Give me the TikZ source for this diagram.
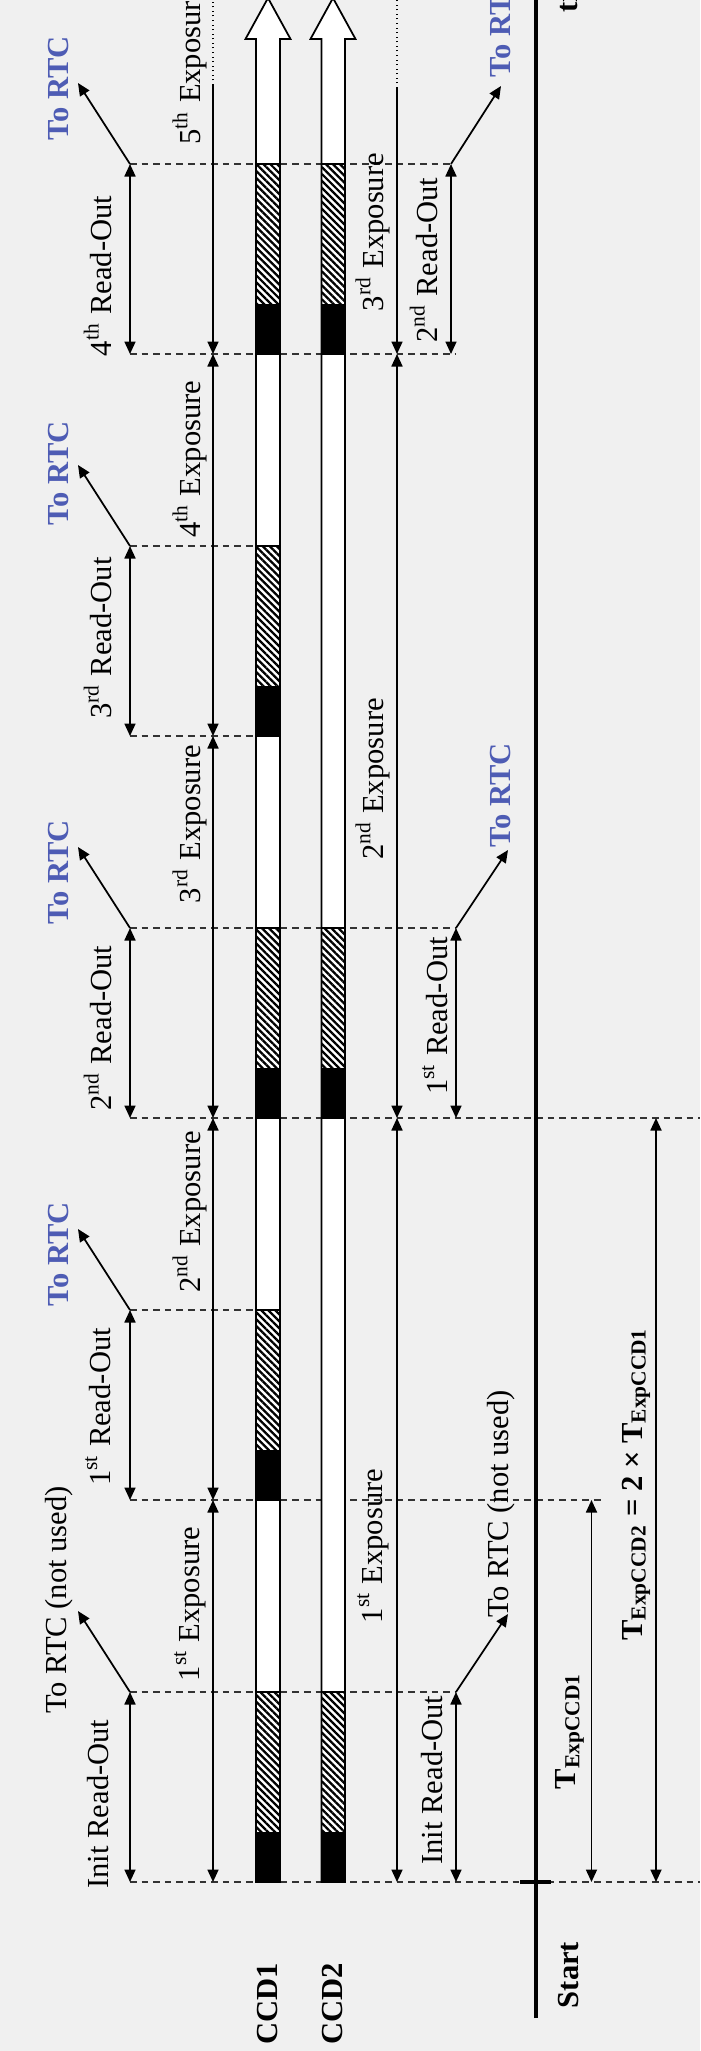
\documentclass[tikz,border=0pt]{standalone}
\usepackage{fontspec}
\setmainfont{Liberation Serif}
\usetikzlibrary{arrows.meta,patterns.meta}
\definecolor{paper}{RGB}{240,240,240}
\definecolor{rtcblue}{RGB}{78,92,180}
\tikzset{
  lbl/.style={rotate=90, inner sep=0pt, font=\fontsize{8.7}{10}\selectfont},
  blbl/.style={lbl, font=\fontsize{8.7}{10}\selectfont\bfseries},
  rtc/.style={blbl, text=rtcblue},
  span/.style={{Triangle[length=1.25mm,width=1.1mm]}-{Triangle[length=1.25mm,width=1.1mm]}, line width=0.5pt},
  send/.style={-{Triangle[length=1.25mm,width=1.1mm]}, line width=0.5pt},
  guide/.style={line width=0.5pt, dash pattern=on 1.9pt off 1.4pt, black!80},
  ccdbar/.style={draw, fill=white, line width=0.5pt},
  hatch/.style={draw, line width=0.5pt, pattern={Lines[angle=-45,distance=1.4pt,line width=0.65pt]}},
  dark/.style={draw, fill=black, line width=0.5pt},
  timeline/.style={line width=1.15pt},
}

\begin{document}
\begin{tikzpicture}
  \useasboundingbox (0,0) rectangle (7.00,-20.51);
  \fill[paper] (0,0) rectangle (7.00,-20.51);
  % columns
  \coordinate (xro) at (1.30,0);
  \coordinate (xex) at (2.13,0);
  \coordinate (xbar) at (2.80,0);
  \coordinate (xe2) at (3.97,0);
  \coordinate (xr2) at (4.56,0);
  \coordinate (xr2b) at (4.51,0);
  \coordinate (xt1) at (5.915,0);
  \coordinate (xg1) at (6.05,0);
  \coordinate (xt2) at (6.56,0);
  \coordinate (xend) at (7.00,0);
  % time marks
  \coordinate (t0) at (0,-18.82);
  \coordinate (t1) at (0,-15.00);
  \coordinate (t2) at (0,-11.18);
  \coordinate (t3) at (0,-7.36);
  \coordinate (t4) at (0,-3.54);
  \coordinate (r0) at (0,-16.92);
  \coordinate (r1) at (0,-13.10);
  \coordinate (r2) at (0,-9.28);
  \coordinate (r3) at (0,-5.46);
  \coordinate (r4) at (0,-1.64);
  \coordinate (e5) at (0,-0.85);
  \coordinate (e3) at (0,-0.88);
  \coordinate (top) at (0,0.05);

  % dashed guides
  \draw[guide] (xro |- t0) -- (xend |- t0);
  \draw[guide] (xro |- r0) -- (xr2 |- r0);
  \draw[guide] (xro |- t1) -- (xg1 |- t1);
  \draw[guide] (xro |- r1) -- (xbar |- r1);
  \draw[guide] (xro |- t2) -- (xend |- t2);
  \draw[guide] (xro |- r2) -- (xr2 |- r2);
  \draw[guide] (xro |- t3) -- (xbar |- t3);
  \draw[guide] (xro |- r3) -- (xbar |- r3);
  \draw[guide] (xro |- t4) -- (xr2 |- t4);
  \draw[guide] (xro |- r4) -- (xr2b |- r4);

  % CCD bars
  \draw[ccdbar] (2.56,-18.82) -- (2.56,-0.39) -- (2.455,-0.39) -- (2.68,0.02) -- (2.905,-0.39) -- (2.80,-0.39) -- (2.80,-18.82) -- cycle;
  \draw[ccdbar] (3.215,-18.82) -- (3.215,-0.39) -- (3.105,-0.39) -- (3.33,0.02) -- (3.555,-0.39) -- (3.45,-0.39) -- (3.45,-18.82) -- cycle;
  % read-out blocks, CCD1
  \draw[dark] (2.56,-18.82) rectangle (2.80,-18.33);
  \draw[hatch] (2.56,-18.33) rectangle (2.80,-16.92);
  \draw[dark] (2.56,-15.00) rectangle (2.80,-14.51);
  \draw[hatch] (2.56,-14.51) rectangle (2.80,-13.10);
  \draw[dark] (2.56,-11.18) rectangle (2.80,-10.69);
  \draw[hatch] (2.56,-10.69) rectangle (2.80,-9.28);
  \draw[dark] (2.56,-7.36) rectangle (2.80,-6.87);
  \draw[hatch] (2.56,-6.87) rectangle (2.80,-5.46);
  \draw[dark] (2.56,-3.54) rectangle (2.80,-3.05);
  \draw[hatch] (2.56,-3.05) rectangle (2.80,-1.64);
  % read-out blocks, CCD2
  \draw[dark] (3.215,-18.82) rectangle (3.45,-18.33);
  \draw[hatch] (3.215,-18.33) rectangle (3.45,-16.92);
  \draw[dark] (3.215,-11.18) rectangle (3.45,-10.69);
  \draw[hatch] (3.215,-10.69) rectangle (3.45,-9.28);
  \draw[dark] (3.215,-3.54) rectangle (3.45,-3.05);
  \draw[hatch] (3.215,-3.05) rectangle (3.45,-1.64);

  % CCD1 spans
  \draw[span] (xro |- r0) -- (xro |- t0);
  \draw[span] (xro |- r1) -- (xro |- t1);
  \draw[span] (xro |- r2) -- (xro |- t2);
  \draw[span] (xro |- r3) -- (xro |- t3);
  \draw[span] (xro |- r4) -- (xro |- t4);
  \draw[span] (xex |- t1) -- (xex |- t0);
  \draw[span] (xex |- t2) -- (xex |- t1);
  \draw[span] (xex |- t3) -- (xex |- t2);
  \draw[span] (xex |- t4) -- (xex |- t3);
  \draw[send] (xex |- e5) -- (xex |- t4);
  \draw[densely dotted, line width=0.3pt] (xex |- e5) -- (xex |- top);
  % CCD2 spans
  \draw[span] (xe2 |- t2) -- (xe2 |- t0);
  \draw[span] (xe2 |- t4) -- (xe2 |- t2);
  \draw[send] (xe2 |- e3) -- (xe2 |- t4);
  \draw[densely dotted, line width=0.3pt] (xe2 |- e3) -- (xe2 |- top);
  \draw[span] (xr2 |- r0) -- (xr2 |- t0);
  \draw[span] (xr2 |- r2) -- (xr2 |- t2);
  \draw[span] (xr2b |- r4) -- (xr2b |- t4);
  % exposure times
  \draw[span] (xt1 |- t1) -- (xt1 |- t0);
  \draw[span] (xt2 |- t2) -- (xt2 |- t0);

  % time axis
  \coordinate (ax0) at (5.36,-20.18);
  \coordinate (ax1) at (5.36,0.05);
  \coordinate (tk0) at (5.20,-18.82);
  \coordinate (tk1) at (5.51,-18.82);
  \draw[timeline] (ax0) -- (ax1);
  \draw[timeline] (tk0) -- (tk1);

  % to RTC arrows
  \coordinate (q0) at (0.78,-16.11);
  \coordinate (q1) at (0.78,-12.29);
  \coordinate (q2) at (0.78,-8.47);
  \coordinate (q3) at (0.78,-4.65);
  \coordinate (q4) at (0.78,-0.83);
  \coordinate (p0) at (5.08,-16.14);
  \coordinate (p2) at (5.08,-8.50);
  \coordinate (p4) at (5.01,-0.86);
  \draw[send] (xro |- r0) -- (q0);
  \draw[send] (xro |- r1) -- (q1);
  \draw[send] (xro |- r2) -- (q2);
  \draw[send] (xro |- r3) -- (q3);
  \draw[send] (xro |- r4) -- (q4);
  \draw[send] (xr2 |- r0) -- (p0);
  \draw[send] (xr2 |- r2) -- (p2);
  \draw[send] (xr2b |- r4) -- (p4);

  % labels
  \node[lbl] (ro0) at (0.98,-18.04) {Init Read-Out};
  \node[lbl] (ro1) at (0.98,-14.07) {1\textsuperscript{st} Read-Out};
  \node[lbl] (ro2) at (0.98,-10.28) {2\textsuperscript{nd} Read-Out};
  \node[lbl] (ro3) at (0.98,-6.38) {3\textsuperscript{rd} Read-Out};
  \node[lbl] (ro4) at (0.98,-2.76) {4\textsuperscript{th} Read-Out};
  \node[lbl] (ex1) at (1.90,-16.04) {1\textsuperscript{st} Exposure};
  \node[lbl] (ex2) at (1.90,-12.12) {2\textsuperscript{nd} Exposure};
  \node[lbl] (ex3) at (1.90,-8.24) {3\textsuperscript{rd} Exposure};
  \node[lbl] (ex4) at (1.90,-4.59) {4\textsuperscript{th} Exposure};
  \node[lbl, anchor=west] (ex5) at (1.90,-1.45) {5\textsuperscript{th} Exposure};
  \node[lbl] (fx1) at (3.73,-15.46) {1\textsuperscript{st} Exposure};
  \node[lbl] (fx2) at (3.73,-7.79) {2\textsuperscript{nd} Exposure};
  \node[lbl] (fx3) at (3.73,-2.32) {3\textsuperscript{rd} Exposure};
  \node[lbl] (fo0) at (4.32,-17.80) {Init Read-Out};
  \node[lbl] (fo1) at (4.35,-10.16) {1\textsuperscript{st} Read-Out};
  \node[lbl] (fo2) at (4.24,-2.60) {2\textsuperscript{nd} Read-Out};
  \node[lbl] (nu1) at (0.59,-16.00) {To RTC (not used)};
  \node[lbl] (nu2) at (5.01,-15.04) {To RTC (not used)};
  \node[rtc] (rtc1) at (0.59,-12.54) {To RTC};
  \node[rtc] (rtc2) at (0.59,-8.72) {To RTC};
  \node[rtc] (rtc3) at (0.59,-4.73) {To RTC};
  \node[rtc] (rtc4) at (0.59,-0.88) {To RTC};
  \node[rtc] (rtc5) at (5.01,-7.95) {To RTC};
  \node[rtc, anchor=west] (rtc6) at (5.01,-0.78) {To RTC};
  \node[blbl] (ccd1) at (2.68,-20.04) {CCD1};
  \node[blbl] (ccd2) at (3.33,-20.04) {CCD2};
  \node[blbl] (start) at (5.69,-19.75) {Start};
  \node[blbl, anchor=west] (time) at (5.67,-0.13) {time};
  \node[blbl] (texp1) at (5.70,-17.31) {T\textsubscript{ExpCCD1}};
  \node[blbl] (texp2) at (6.36,-14.84) {T\textsubscript{ExpCCD2} = 2 × T\textsubscript{ExpCCD1}};
\end{tikzpicture}
\end{document}
